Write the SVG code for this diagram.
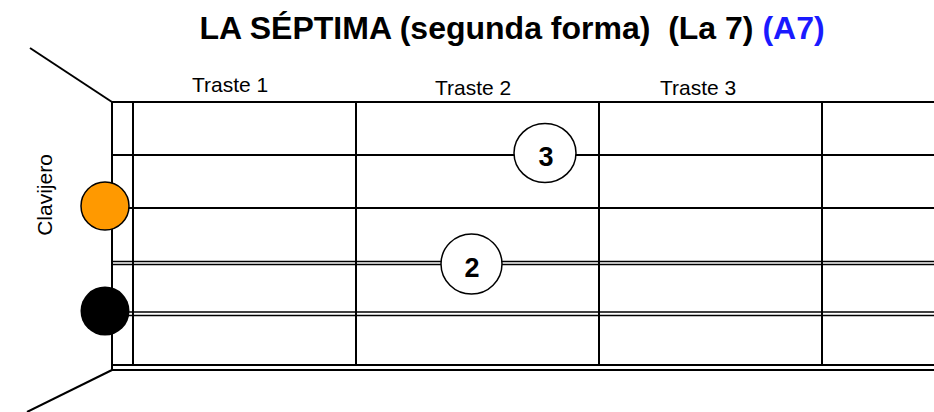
<svg xmlns="http://www.w3.org/2000/svg" width="934" height="412" viewBox="0 0 934 412">
<style>
.ln{stroke:#000;stroke-width:2;fill:none}
.thin{stroke:#000;stroke-width:1.5;fill:none}
.lbl{font-family:"Liberation Sans",Arial,sans-serif;font-size:21px;fill:#000}
.num{font-family:"Liberation Sans",Arial,sans-serif;font-size:27px;font-weight:bold;fill:#000;text-anchor:middle}
.finger{fill:#fff;stroke:#000;stroke-width:1.5}
</style>
<rect width="934" height="412" fill="#fff"/>
<text x="512" y="39" text-anchor="middle" xml:space="preserve" style="white-space:pre" font-family="'Liberation Sans',Arial,sans-serif" font-size="32" font-weight="bold" fill="#000">LA SÉPTIMA (segunda forma)  (La 7) <tspan fill="#1a1aff">(A7)</tspan></text>
<g id="labels">
<text class="lbl" x="192" y="92">Traste 1</text>
<text class="lbl" x="435" y="95">Traste 2</text>
<text class="lbl" x="660" y="95">Traste 3</text>
<text class="lbl" transform="translate(52,195) rotate(-90)" text-anchor="middle">Clavijero</text>
</g>
<g id="connectors">
<line class="ln" x1="30" y1="48" x2="112" y2="102"/>
<line class="ln" x1="112" y1="370" x2="27" y2="412"/>
<line class="ln" x1="112" y1="102" x2="934" y2="102"/>
<line class="ln" x1="112" y1="155" x2="934" y2="155"/>
<line class="ln" x1="112" y1="208" x2="934" y2="208"/>
<line class="thin" x1="112" y1="261.5" x2="934" y2="261.5"/>
<line class="thin" x1="112" y1="264.5" x2="934" y2="264.5"/>
<line class="thin" x1="112" y1="312" x2="934" y2="312"/>
<line class="thin" x1="112" y1="315.5" x2="934" y2="315.5"/>
<line class="ln" x1="112" y1="365" x2="934" y2="365"/>
<line class="ln" x1="112" y1="370" x2="934" y2="370"/>
<line class="ln" x1="112" y1="102" x2="112" y2="370"/>
<line class="ln" x1="133" y1="102" x2="133" y2="366"/>
<line class="ln" x1="356" y1="102" x2="356" y2="366"/>
<line class="ln" x1="599" y1="102" x2="599" y2="366"/>
<line class="ln" x1="822" y1="102" x2="822" y2="366"/>
</g>
<g id="open-string">
<circle cx="105" cy="206" r="24" fill="#ff9900" stroke="#000" stroke-width="1.5"/>
</g>
<g id="bass-string">
<circle cx="105" cy="311" r="24.5" fill="#000"/>
</g>
<g id="finger-3">
<ellipse class="finger" cx="545" cy="153" rx="31" ry="29.5"/>
<text class="num" x="546" y="166">3</text>
</g>
<g id="finger-2">
<ellipse class="finger" cx="471.5" cy="264" rx="30.5" ry="30"/>
<text class="num" x="472" y="277">2</text>
</g>
</svg>
